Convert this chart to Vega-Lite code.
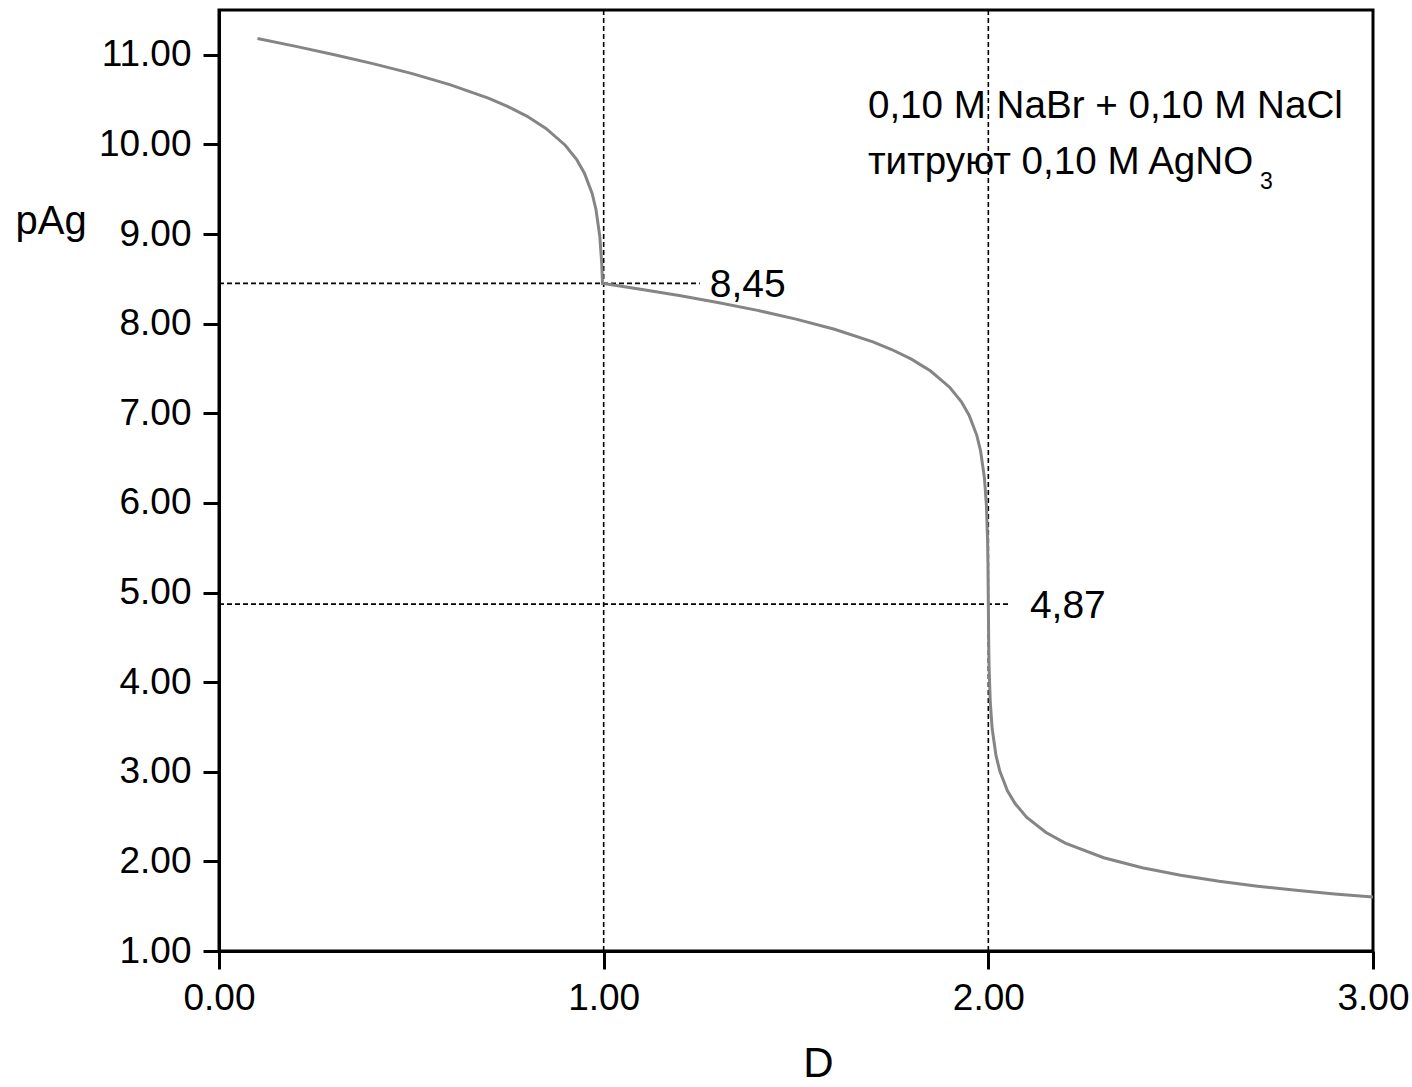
{
  "$schema": "https://vega.github.io/schema/vega-lite/v6.json",
  "autosize": "none",
  "width": 1154,
  "height": 941,
  "padding": {"left": 219, "top": 10, "right": 39, "bottom": 136},
  "background": "white",
  "datasets": {
    "curve": [
      {"D": 0.1, "pAg": 11.183}, {"D": 0.2, "pAg": 11.094}, {"D": 0.3, "pAg": 11.001},
      {"D": 0.4, "pAg": 10.902}, {"D": 0.5, "pAg": 10.793}, {"D": 0.6, "pAg": 10.668},
      {"D": 0.7, "pAg": 10.517}, {"D": 0.75, "pAg": 10.425}, {"D": 0.8, "pAg": 10.316},
      {"D": 0.85, "pAg": 10.179}, {"D": 0.9, "pAg": 9.991}, {"D": 0.93, "pAg": 9.83},
      {"D": 0.95, "pAg": 9.679}, {"D": 0.97, "pAg": 9.453}, {"D": 0.98, "pAg": 9.274},
      {"D": 0.99, "pAg": 8.971}, {"D": 0.995, "pAg": 8.669}, {"D": 0.997, "pAg": 8.449},
      {"D": 1.0, "pAg": 8.449}, {"D": 1.1, "pAg": 8.382}, {"D": 1.2, "pAg": 8.311},
      {"D": 1.3, "pAg": 8.233}, {"D": 1.4, "pAg": 8.148}, {"D": 1.5, "pAg": 8.051},
      {"D": 1.6, "pAg": 7.937}, {"D": 1.7, "pAg": 7.796}, {"D": 1.75, "pAg": 7.709},
      {"D": 1.8, "pAg": 7.604}, {"D": 1.85, "pAg": 7.471}, {"D": 1.9, "pAg": 7.288},
      {"D": 1.93, "pAg": 7.128}, {"D": 1.95, "pAg": 6.979}, {"D": 1.97, "pAg": 6.754},
      {"D": 1.98, "pAg": 6.577}, {"D": 1.99, "pAg": 6.274}, {"D": 1.995, "pAg": 5.973},
      {"D": 1.998, "pAg": 5.59}, {"D": 1.999, "pAg": 5.33}, {"D": 2.0, "pAg": 4.875},
      {"D": 2.001, "pAg": 4.42}, {"D": 2.002, "pAg": 4.16}, {"D": 2.005, "pAg": 3.78},
      {"D": 2.01, "pAg": 3.479}, {"D": 2.02, "pAg": 3.179}, {"D": 2.03, "pAg": 3.004},
      {"D": 2.05, "pAg": 2.785}, {"D": 2.07, "pAg": 2.642}, {"D": 2.1, "pAg": 2.491},
      {"D": 2.15, "pAg": 2.322}, {"D": 2.2, "pAg": 2.204}, {"D": 2.3, "pAg": 2.041},
      {"D": 2.4, "pAg": 1.929}, {"D": 2.5, "pAg": 1.845}, {"D": 2.6, "pAg": 1.778},
      {"D": 2.7, "pAg": 1.723}, {"D": 2.8, "pAg": 1.677}, {"D": 2.9, "pAg": 1.637},
      {"D": 3.0, "pAg": 1.602}
    ],
    "rules": [
      {"x": 1, "x2": 1, "y": 1, "y2": 11.5},
      {"x": 2, "x2": 2, "y": 1, "y2": 11.5},
      {"x": 0, "x2": 1.25, "y": 8.45, "y2": 8.45},
      {"x": 0, "x2": 2.056, "y": 4.87, "y2": 4.87}
    ],
    "values": [
      {"x": 1.276, "y": 8.45, "label": "8,45"},
      {"x": 2.108, "y": 4.87, "label": "4,87"}
    ],
    "note": [
      {"x": 1.687, "y": 10.29, "label": "0,10 M NaBr + 0,10 M NaCl"},
      {"x": 1.687, "y": 9.67, "label": "титруют 0,10 M AgNO"}
    ],
    "sub": [
      {"x": 2.706, "y": 9.5, "label": "3"}
    ]
  },
  "layer": [
    {
      "data": {"name": "rules"},
      "mark": {"type": "rule", "color": "black", "strokeWidth": 1.6, "strokeDash": [5, 3]},
      "encoding": {
        "x": {"field": "x", "type": "quantitative", "scale": {"domain": [0, 3], "nice": false, "zero": false},
          "axis": {"values": [0, 1, 2, 3], "format": ".2f", "tickSize": 18, "labelPadding": 11, "labelFlush": false, "labelOverlap": false,
            "title": "D", "titleX": 599, "titleY": 125, "titleAlign": "center", "titleBaseline": "alphabetic"}},
        "x2": {"field": "x2"},
        "y": {"field": "y", "type": "quantitative", "scale": {"domain": [1, 11.5], "nice": false, "zero": false},
          "axis": {"values": [1, 2, 3, 4, 5, 6, 7, 8, 9, 10, 11], "format": ".2f", "tickSize": 16, "labelPadding": 12, "labelOverlap": false,
            "title": "pAg", "titleAngle": 0, "titleX": -204, "titleY": 223, "titleAlign": "left", "titleBaseline": "alphabetic", "titleFontSize": 40}},
        "y2": {"field": "y2"}
      }
    },
    {
      "data": {"name": "curve"},
      "mark": {"type": "line", "color": "#858585", "strokeWidth": 3},
      "encoding": {
        "x": {"field": "D", "type": "quantitative"},
        "y": {"field": "pAg", "type": "quantitative"}
      }
    },
    {
      "data": {"name": "values"},
      "mark": {"type": "text", "font": "Liberation Sans", "fontSize": 39, "align": "left", "baseline": "middle", "dy": 2, "color": "black"},
      "encoding": {
        "x": {"field": "x", "type": "quantitative"},
        "y": {"field": "y", "type": "quantitative"},
        "text": {"field": "label"}
      }
    },
    {
      "data": {"name": "note"},
      "mark": {"type": "text", "font": "Liberation Sans", "fontSize": 38.6, "align": "left", "baseline": "alphabetic", "color": "black"},
      "encoding": {
        "x": {"field": "x", "type": "quantitative"},
        "y": {"field": "y", "type": "quantitative"},
        "text": {"field": "label"}
      }
    },
    {
      "data": {"name": "sub"},
      "mark": {"type": "text", "font": "Liberation Sans", "fontSize": 23, "align": "left", "baseline": "alphabetic", "color": "black"},
      "encoding": {
        "x": {"field": "x", "type": "quantitative"},
        "y": {"field": "y", "type": "quantitative"},
        "text": {"field": "label"}
      }
    }
  ],
  "config": {
    "view": {"stroke": "black", "strokeWidth": 3},
    "axis": {
      "grid": false,
      "domainColor": "black", "domainWidth": 3,
      "tickColor": "black", "tickWidth": 3,
      "labelFont": "Liberation Sans", "labelFontSize": 37, "labelColor": "black",
      "titleFont": "Liberation Sans", "titleFontSize": 42, "titleFontWeight": "normal", "titleColor": "black"
    }
  }
}
